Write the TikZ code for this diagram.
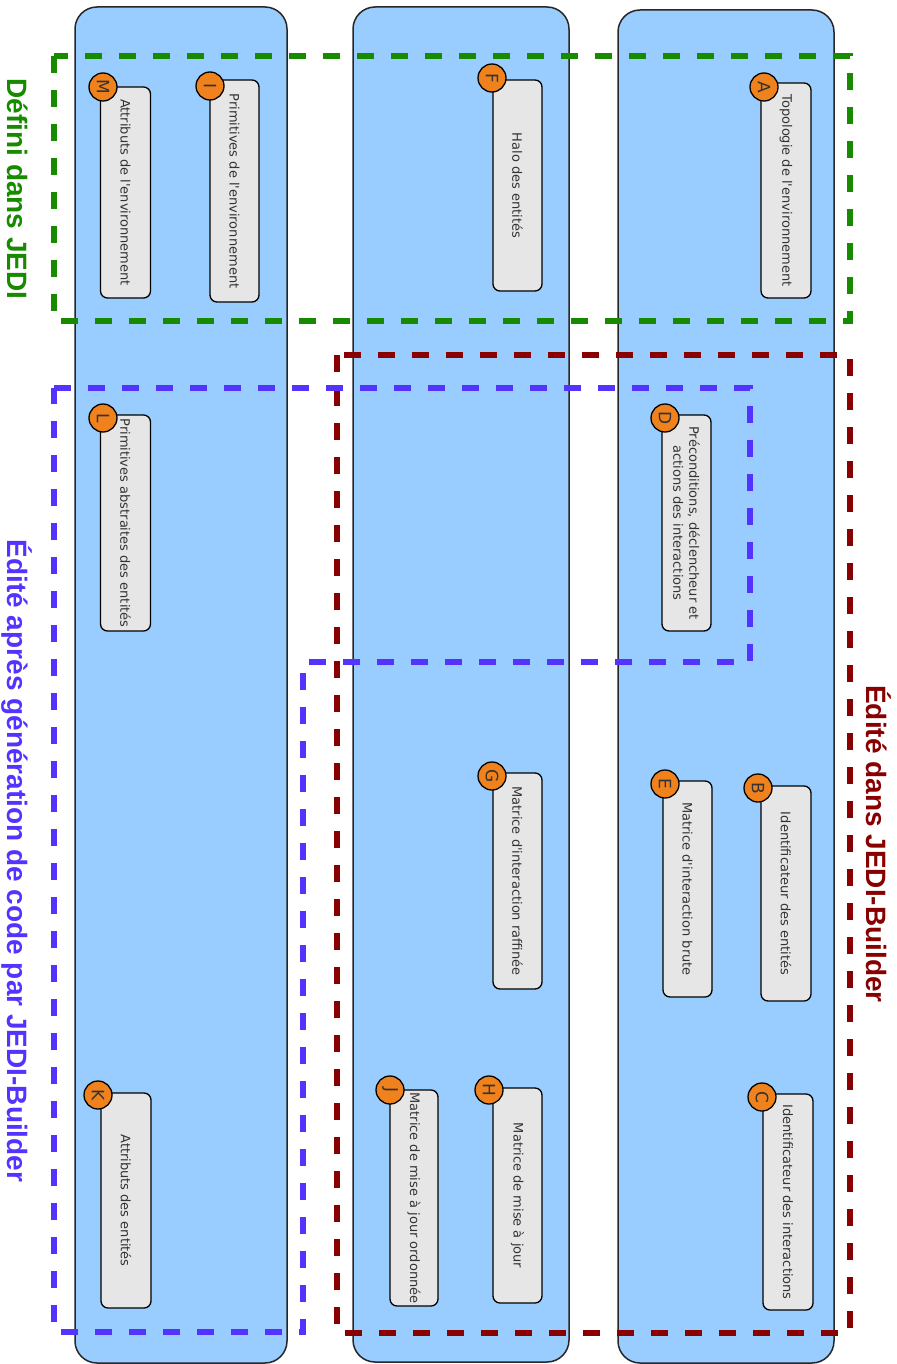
\documentclass[tikz,border=0pt]{standalone}
\usepackage{fontspec}
\setmainfont{DejaVu Sans}
\newfontfamily\grpfont{Liberation Sans}
\definecolor{colblue}{HTML}{99CCFF}
\definecolor{boxgray}{HTML}{E6E6E6}
\definecolor{badgeorange}{HTML}{F0821E}
\definecolor{textgray}{HTML}{333333}
\definecolor{jgreen}{HTML}{178A00}
\definecolor{jred}{HTML}{880000}
\definecolor{jpurple}{HTML}{5533FF}
\newcommand{\apo}{\textquotesingle}
\begin{document}
\begin{tikzpicture}[x=1pt,y=-1pt,
  col/.style={rectangle, draw=black!85, line width=1.5pt, fill=colblue, rounded corners=22pt, inner sep=0pt},
  grp/.style={line width=6.5pt, dash pattern=on 17pt off 17pt},
  grouplabel/.style={anchor=base, rotate=-90, inner sep=0pt, font=\grpfont\bfseries\fontsize{28}{32}\selectfont},
  itembox/.style={rectangle, draw=black, line width=1.3pt, fill=boxgray, rounded corners=7pt, rotate=-90,
    minimum width=215pt, minimum height=50pt, inner sep=0pt, align=center, text=textgray,
    font=\fontsize{13}{16}\selectfont},
  badge/.style={circle, draw=black, line width=1.3pt, fill=badgeorange, minimum size=28pt, inner sep=0pt,
    rotate=-90, text=textgray, font=\fontsize{17}{17}\selectfont}
]
\useasboundingbox (0,0) rectangle (896,1364);

% columns
\node (col1) [col, minimum width=212pt, minimum height=1356pt] at (181,685) {};
\node (col2) [col, minimum width=216pt, minimum height=1355pt] at (461,684.5) {};
\node (col3) [col, minimum width=216pt, minimum height=1353pt] at (726,686.5) {};

% group frames
\draw[grp, draw=jgreen] (54,56) rectangle (850,321);
\draw[grp, draw=jred] (337,355) rectangle (850,1333);
\draw[grp, draw=jpurple] (54,388) -- (750,388) -- (750,662) -- (303,662) -- (303,1332) -- (54,1332) -- cycle;

% group labels
\node (lgreen) [grouplabel, text=jgreen] at (7,189) {Défini dans JEDI};
\node (lpurple) [grouplabel, text=jpurple] at (7,861) {Édité après génération de code par JEDI-Builder};
\node (lred) [grouplabel, text=jred] at (866,844) {Édité dans JEDI-Builder};

% item boxes
\node (bA) [itembox] at (786,190.5) {Topologie de l\apo environnement};
\node (bM) [itembox, minimum width=211pt] at (125.5,192.5) {Attributs de l\apo environnement};
\node (bI) [itembox, minimum width=222pt, minimum height=49pt] at (234.5,191) {Primitives de l\apo environnement};
\node (bF) [itembox, minimum width=211pt, minimum height=49pt] at (517.5,185.5) {Halo des entités};
\node (bD) [itembox, minimum width=216pt, minimum height=49pt] at (686.5,523) {Préconditions, déclencheur et\\actions des interactions};
\node (bL) [itembox, minimum width=216pt] at (125.5,523) {Primitives abstraites des entités};
\node (bB) [itembox] at (786,893.5) {Identificateur des entités};
\node (bE) [itembox, minimum width=216pt, minimum height=49pt] at (687.5,889) {Matrice d\apo interaction brute};
\node (bG) [itembox, minimum width=216pt, minimum height=49pt] at (517.5,881) {Matrice d\apo interaction raffinée};
\node (bK) [itembox] at (126,1200.5) {Attributs des entités};
\node (bJ) [itembox, minimum width=216pt, minimum height=48pt] at (414,1198) {Matrice de mise à jour ordonnée};
\node (bH) [itembox, minimum height=49pt] at (517.5,1195.5) {Matrice de mise à jour};
\node (bC) [itembox, minimum width=216pt] at (788,1202) {Identificateur des interactions};

% badges
\node (cA) [badge] at (764,87) {A};
\node (cM) [badge] at (103,87) {M};
\node (cI) [badge] at (210,86) {I};
\node (cF) [badge] at (492,78) {F};
\node (cD) [badge] at (665,418) {D};
\node (cL) [badge] at (103,418) {L};
\node (cB) [badge] at (758,788) {B};
\node (cE) [badge] at (665,784) {E};
\node (cG) [badge] at (492,776) {G};
\node (cK) [badge] at (98,1095) {K};
\node (cJ) [badge] at (390,1090) {J};
\node (cH) [badge] at (489,1090) {H};
\node (cC) [badge] at (762,1097) {C};
\end{tikzpicture}
\end{document}
